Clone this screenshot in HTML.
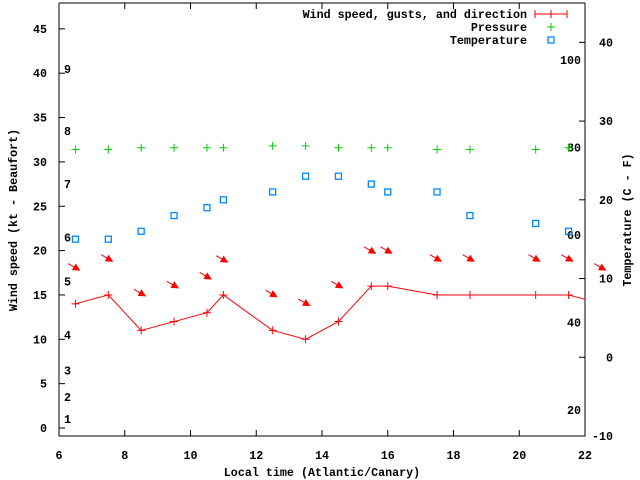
<!DOCTYPE html>
<html><head><meta charset="utf-8"><style>
body{margin:0;background:#fff}
svg{display:block}
text{font-family:"Liberation Mono",monospace;font-size:11.7px;font-weight:bold;fill:#000}
</style></head><body>
<svg id="chart" width="640" height="480" viewBox="0 0 640 480" xmlns="http://www.w3.org/2000/svg">
<defs><clipPath id="clip"><rect x="59" y="3" width="526" height="433"/></clipPath></defs>
<g id="axes"></g>
<g id="marks"></g>
<text x="322" y="476" text-anchor="middle">Local time (Atlantic/Canary)</text>
<text transform="translate(17,220) rotate(-90)" text-anchor="middle">Wind speed (kt - Beaufort)</text>
<text transform="translate(631,220) rotate(-90)" text-anchor="middle">Temperature (C - F)</text>
<g>
<text x="527" y="18" text-anchor="end">Wind speed, gusts, and direction</text>
<text x="527" y="31" text-anchor="end">Pressure</text>
<text x="527" y="44" text-anchor="end">Temperature</text>
<g stroke="#f00" stroke-width="1"><line x1="535" y1="14" x2="567" y2="14"/><line x1="535" y1="10" x2="535" y2="18"/><line x1="567" y1="10" x2="567" y2="18"/><line x1="551" y1="10" x2="551" y2="18"/></g>
<g stroke="#0c0" stroke-width="1"><line x1="547" y1="27" x2="555" y2="27"/><line x1="551" y1="23" x2="551" y2="31"/></g>
<rect x="548" y="37" width="6" height="6" fill="none" stroke="#08f" stroke-width="1.3"/>
</g>
</svg>
<script>
const times=[6.5,7.5,8.5,9.5,10.5,11,12.5,13.5,14.5,15.5,16,17.5,18.5,20.5,21.5,22.5];
const wind=[14,15,11,12,13,15,11,10,12,16,16,15,15,15,15,14];
const gust=[17.8,18.8,14.9,15.8,16.8,18.7,14.8,13.8,15.8,19.7,19.7,18.8,18.8,18.8,18.8,17.8];
const windDir=[300,300,300,300,300,300,300,300,300,300,300,300,300,300,300,300];
const pressure=[31.4,31.4,31.6,31.6,31.6,31.6,31.8,31.8,31.6,31.6,31.6,31.4,31.4,31.4,31.6];
const temperature=[15,15,16,18,19,20,21,23,23,22,21,21,18,17,16];
const xTicks=[6,8,10,12,14,16,18,20,22];
const yTicks=[0,5,10,15,20,25,30,35,40,45];
const y2Ticks=[-10,0,10,20,30,40];
const fTicks=[20,40,60,80,100];
const beaufortLabels=["1","2","3","4","5","6","7","8","9"];
const beaufortKt=[1,3.5,6.5,10.5,16.5,21.5,27.5,33.5,40.5];

(function(){
const NS="http://www.w3.org/2000/svg";
const X=t=>59+(t-6)*526/16;
const Y=v=>428-v*8.87;
const Y2=c=>436-(c+10)*433/55;
function mk(tag,attrs,parent){const e=document.createElementNS(NS,tag);for(const k in attrs)e.setAttribute(k,attrs[k]);parent.appendChild(e);return e;}
const axes=document.getElementById('axes'),marks=document.getElementById('marks');
const frame=mk('path',{d:'M59,3 V436 H585 V3',fill:'none',stroke:'#000','stroke-width':1},axes);


const topBorder=mk('line',{x1:59,y1:3,x2:585,y2:3,stroke:'#000'},axes);


xTicks.forEach(t=>{
  const l=mk('path',{d:`M${X(t)},436 v-6 M${X(t)},3 v6`,stroke:'#000'},axes);
  
  
  const tx=mk('text',{x:X(t),y:459,'text-anchor':'middle'},axes);tx.textContent=t;
  
  
});
yTicks.forEach(v=>{
  const l=mk('path',{d:`M59,${Y(v)} h6`,stroke:'#000'},axes);
  
  
  const tx=mk('text',{x:47,y:Y(v)+4,'text-anchor':'end'},axes);tx.textContent=v;
  
  
});
y2Ticks.forEach(v=>{
  const l=mk('path',{d:`M585,${Y2(v)} h-6`,stroke:'#000'},axes);
  
  
  const tx=mk('text',{x:613,y:Y2(v)+4,'text-anchor':'end'},axes);tx.textContent=v;
  
  
});
fTicks.forEach(f=>{
  const tx=mk('text',{x:581,y:Y2((f-32)*5/9)+4,'text-anchor':'end'},axes);tx.textContent=f;
  
  
});
beaufortLabels.forEach((b,i)=>{
  const tx=mk('text',{x:64,y:Y(beaufortKt[i])+4},axes);tx.textContent=b;
  
  
});
const cg=mk('g',{'clip-path':'url(#clip)'},marks);


const wl=mk('polyline',{points:times.map((t,i)=>X(t)+','+Y(wind[i])).join(' '),fill:'none',stroke:'#f00','stroke-width':1},cg);


times.forEach((t,i)=>{
  const x=X(t),y=Y(wind[i]);
  const p=mk('path',{d:`M${x-4},${y} h8 M${x},${y-4} v8`,stroke:'#f00'},cg);
  
  
});
pressure.forEach((v,i)=>{
  const x=X(times[i]),y=Y(v);
  const p=mk('path',{d:`M${x-4},${y} h8 M${x},${y-4} v8`,stroke:'#0c0'},cg);
  
  
});
temperature.forEach((c,i)=>{
  const r=mk('rect',{x:X(times[i])-3,y:Y2(c)-3,width:6,height:6,fill:'none',stroke:'#08f','stroke-width':1.3},cg);
  
  
});
times.forEach((t,i)=>{
  const hx=X(t)+4,hy=Y(gust[i]);
  // wind from direction (degrees, 0=N); arrow points downwind
  const a=windDir[i]*Math.PI/180;
  const nx=-Math.sin(a),ny=Math.cos(a); // downwind unit vector in screen coords
  const L=13;
  const tx=hx-nx*L,ty=hy-ny*L;
  const g=mk('g',{stroke:'#f00',fill:'#f00'},marks);
  
  
  mk('line',{x1:tx,y1:ty,x2:hx,y2:hy},g);
  const bx=hx-nx*6,by=hy-ny*6;
  mk('polygon',{points:`${hx},${hy} ${bx-ny*3},${by+nx*3} ${bx+ny*3},${by-nx*3}`},g);
});
})();
</script>
</body></html>
